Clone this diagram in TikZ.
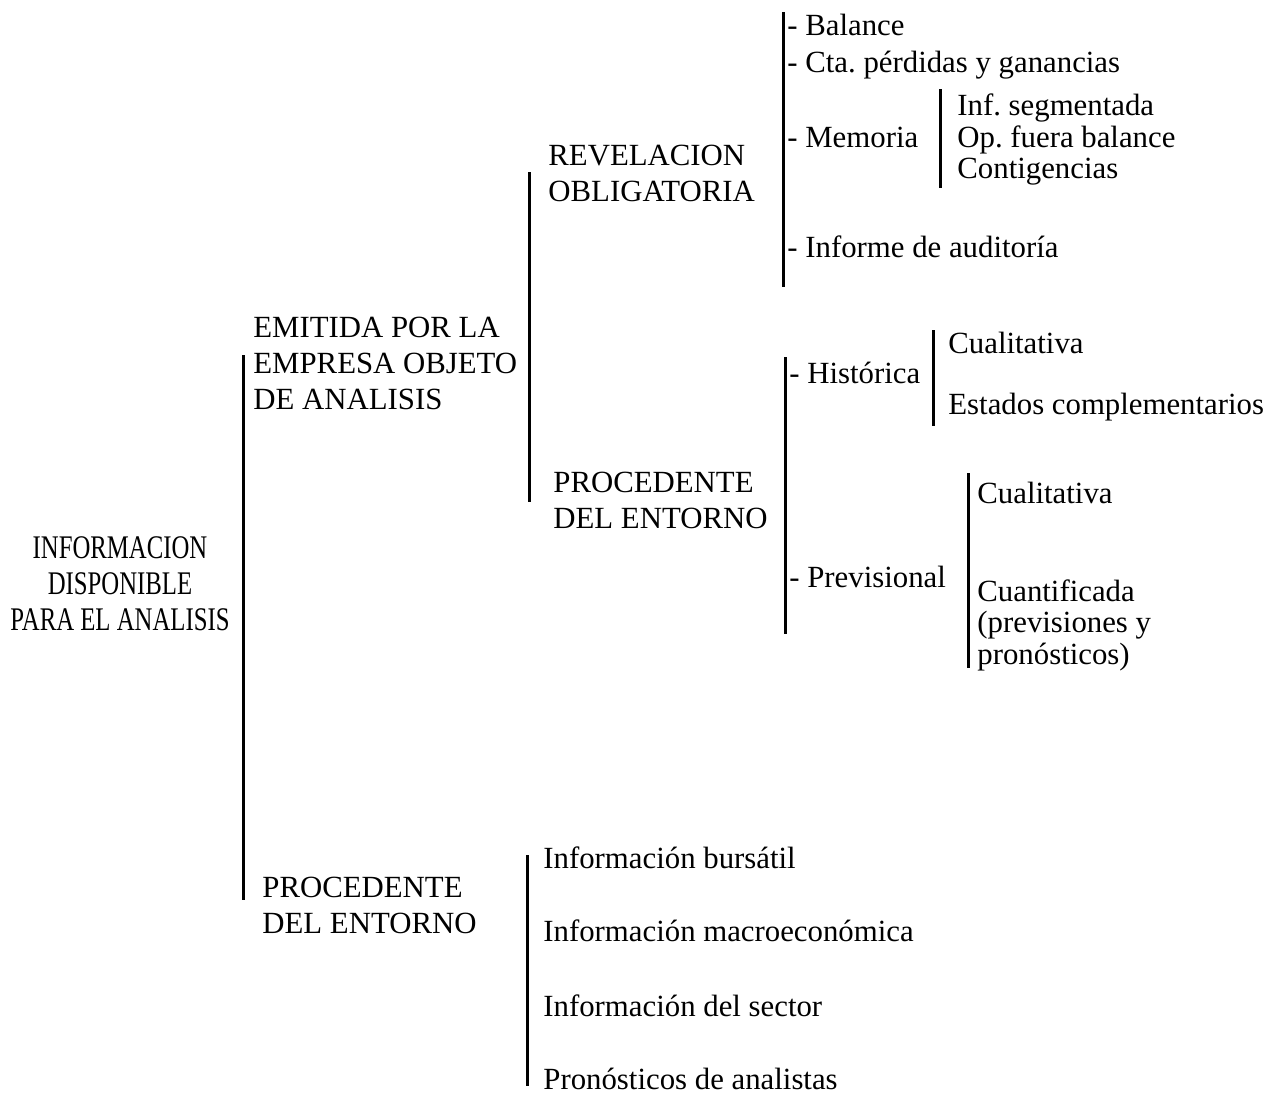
\documentclass[tikz,border=0pt]{standalone}
\usepackage{fontspec}
\setmainfont{Liberation Serif}
\newfontfamily\condfont[FakeStretch=0.75]{Liberation Serif}
\frenchspacing
\tikzset{
  bar/.style={line width=1.5pt},
  item/.style={font=\fontsize{15.4}{15.75}\selectfont, inner sep=0pt, anchor=base west},
  head/.style={font=\fontsize{15.4}{18}\selectfont, inner sep=0pt, anchor=west, align=left},
  root/.style={font=\condfont\fontsize{16.5}{18}\selectfont, inner sep=0pt, align=center}
}
\begin{document}
\begin{tikzpicture}[x=0.5pt,y=-0.5pt]
  \useasboundingbox (0,0) rectangle (1268,1094);
  % first level
  \node[root] (info) at (120,584) {INFORMACION\\DISPONIBLE\\PARA EL ANALISIS};
  \draw[bar] (243,355) -- (243,900);
  \node[head] (emitida) at (253,363) {EMITIDA POR LA\\EMPRESA OBJETO\\DE ANALISIS};
  \node[head] (entorno) at (262,905) {PROCEDENTE\\DEL ENTORNO};
  % emitida por la empresa
  \draw[bar] (529,172) -- (529,502);
  \node[head] (revel) at (548,173) {REVELACION\\OBLIGATORIA};
  \node[head] (proced) at (553,500) {PROCEDENTE\\DEL ENTORNO};
  % revelacion obligatoria
  \draw[bar] (783,12) -- (783,287);
  \node[item] (balance) at (787,35) {- Balance};
  \node[item] (cta) at (787,72) {- Cta. pérdidas y ganancias};
  \node[item] (memoria) at (787,147) {- Memoria};
  \node[item] (auditoria) at (787,257) {- Informe de auditoría};
  \draw[bar] (940,89) -- (940,188);
  \node[item] (segm) at (957,115) {Inf. segmentada};
  \node[item] (fuera) at (957,147) {Op. fuera balance};
  \node[item] (contig) at (957,178) {Contigencias};
  % procedente del entorno
  \draw[bar] (785,357) -- (785,634);
  \node[item] (historica) at (789,383) {- Histórica};
  \node[item] (previs) at (789,587) {- Previsional};
  \draw[bar] (933,330) -- (933,426);
  \node[item] (cualit) at (948,353) {Cualitativa};
  \node[item] (estados) at (948,414) {Estados complementarios};
  \draw[bar] (968,473) -- (968,668);
  \node[item] (cualitb) at (977,503) {Cualitativa};
  \node[item, anchor=west, align=left] (cuantif) at (977,625) {Cuantificada\\(previsiones y\\pronósticos)};
  % entorno
  \draw[bar] (527,855) -- (527,1086);
  \node[item] (bursatil) at (543,868) {Información bursátil};
  \node[item] (macro) at (543,941) {Información macroeconómica};
  \node[item] (sector) at (543,1016) {Información del sector};
  \node[item] (pronost) at (543,1089) {Pronósticos de analistas};
\end{tikzpicture}
\end{document}
